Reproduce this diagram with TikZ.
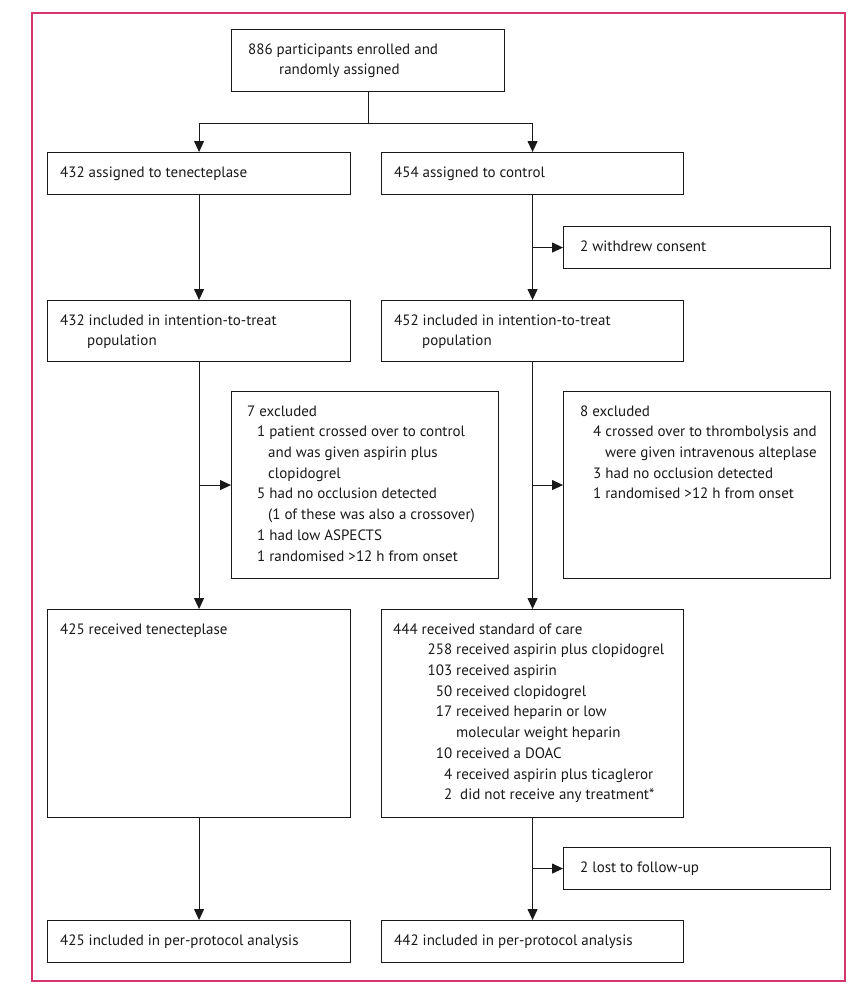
\documentclass[tikz,border=0pt]{standalone}
\usepackage{fontspec}
\setmainfont{PT Sans}
\usetikzlibrary{arrows.meta}
\definecolor{framec}{RGB}{214,52,108}
\definecolor{linec}{RGB}{25,25,25}
\tikzset{
  box/.style={draw=linec, line width=1.1pt, inner sep=0pt, anchor=north west},
  txt/.style={anchor=north west, inner sep=0pt, align=left, text=linec,
    font=\fontsize{15}{20.7}\selectfont},
  conn/.style={draw=linec, line width=1.1pt},
  arr/.style={conn, -{Triangle[length=11pt,width=10pt]}},
}
\newcommand{\nr}[1]{\makebox[59pt][r]{#1}}
\begin{document}
\begin{tikzpicture}[x=1pt,y=-1pt]
\useasboundingbox (0,0) rectangle (857,990);
\draw[framec, line width=1.1pt] (32,13) rectangle (845,981);

% boxes
\node[box, minimum width=273pt, minimum height=62pt] (top) at (231,29) {};
\node[box, minimum width=303pt, minimum height=42pt] (tenA) at (47,152) {};
\node[box, minimum width=302pt, minimum height=42pt] (ctlA) at (381,152) {};
\node[box, minimum width=267pt, minimum height=42pt] (wd) at (563,226) {};
\node[box, minimum width=303pt, minimum height=61pt] (ittL) at (47,300) {};
\node[box, minimum width=302pt, minimum height=61pt] (ittR) at (381,300) {};
\node[box, minimum width=267pt, minimum height=187pt] (exL) at (231,391) {};
\node[box, minimum width=267pt, minimum height=187pt] (exR) at (563,391) {};
\node[box, minimum width=303pt, minimum height=208pt] (recL) at (47,609) {};
\node[box, minimum width=302pt, minimum height=208pt] (recR) at (381,609) {};
\node[box, minimum width=267pt, minimum height=42pt] (lost) at (563,847) {};
\node[box, minimum width=303pt, minimum height=42pt] (ppL) at (47,920) {};
\node[box, minimum width=302pt, minimum height=42pt] (ppR) at (381,920) {};

% texts
\node[txt] (topt) at ([shift={(17,10.5)}]top.north west)
  {\strut 886 participants enrolled and\\\hspace*{31pt}randomly assigned};
\node[txt] (tenAt) at ([shift={(13,10.5)}]tenA.north west)
  {\strut 432 assigned to tenecteplase};
\node[txt] (ctlAt) at ([shift={(13,10.5)}]ctlA.north west)
  {\strut 454 assigned to control};
\node[txt] (wdt) at ([shift={(17,10.5)}]wd.north west)
  {\strut 2 withdrew consent};
\node[txt] (ittLt) at ([shift={(13,10.5)}]ittL.north west)
  {\strut 432 included in intention-to-treat\\\hspace*{27pt}population};
\node[txt] (ittRt) at ([shift={(13,10.5)}]ittR.north west)
  {\strut 452 included in intention-to-treat\\\hspace*{28pt}population};
\node[txt] (exLt) at ([shift={(16,10.5)}]exL.north west)
  {\strut 7 excluded\\
   \hspace*{10pt}1 patient crossed over to control\\
   \hspace*{21pt}and was given aspirin plus\\
   \hspace*{21pt}clopidogrel\\
   \hspace*{10pt}5 had no occlusion detected\\
   \hspace*{21pt}(1 of these was also a crossover)\\
   \hspace*{10pt}1 had low ASPECTS\\
   \hspace*{10pt}1 randomised >12 h from onset};
\node[txt] (exRt) at ([shift={(17,10.5)}]exR.north west)
  {\strut 8 excluded\\
   \hspace*{13pt}4 crossed over to thrombolysis and\\
   \hspace*{25pt}were given intravenous alteplase\\
   \hspace*{13pt}3 had no occlusion detected\\
   \hspace*{13pt}1 randomised >12 h from onset};
\node[txt] (recLt) at ([shift={(13,10.5)}]recL.north west)
  {\strut 425 received tenecteplase};
\node[txt] (recRt) at ([shift={(12,10.5)}]recR.north west)
  {\strut 444 received standard of care\\
   \nr{258} received aspirin plus clopidogrel\\
   \nr{103} received aspirin\\
   \nr{50} received clopidogrel\\
   \nr{17} received heparin or low\\
   \hspace*{63pt}molecular weight heparin\\
   \nr{10} received a DOAC\\
   \nr{4} received aspirin plus ticagleror\\
   \nr{2}\ \ did not receive any treatment*};
\node[txt] (lostt) at ([shift={(17,10.5)}]lost.north west)
  {\strut 2 lost to follow-up};
\node[txt] (ppLt) at ([shift={(13,10.5)}]ppL.north west)
  {\strut 425 included in per-protocol analysis};
\node[txt] (ppRt) at ([shift={(13,10.5)}]ppR.north west)
  {\strut 442 included in per-protocol analysis};

% connectors
\coordinate (split) at ([yshift=-31pt]top.south);
\draw[conn] (top.south) -- (split);
\draw[arr] (split) -| (tenA.north);
\draw[arr] (split) -| (ctlA.north);

\draw[arr] (tenA.south) -- (ittL.north);
\draw[arr] (ctlA.south) -- (ittR.north);
\draw[arr] (ctlA.south |- wd.west) -- (wd.west);

\draw[arr] (ittL.south) -- (recL.north);
\draw[arr] (ittL.south |- exL.west) -- (exL.west);
\draw[arr] (ittR.south) -- (recR.north);
\draw[arr] (ittR.south |- exR.west) -- (exR.west);

\draw[arr] (recL.south) -- (ppL.north);
\draw[arr] (recR.south) -- (ppR.north);
\draw[arr] (recR.south |- lost.west) -- (lost.west);
\end{tikzpicture}
\end{document}
